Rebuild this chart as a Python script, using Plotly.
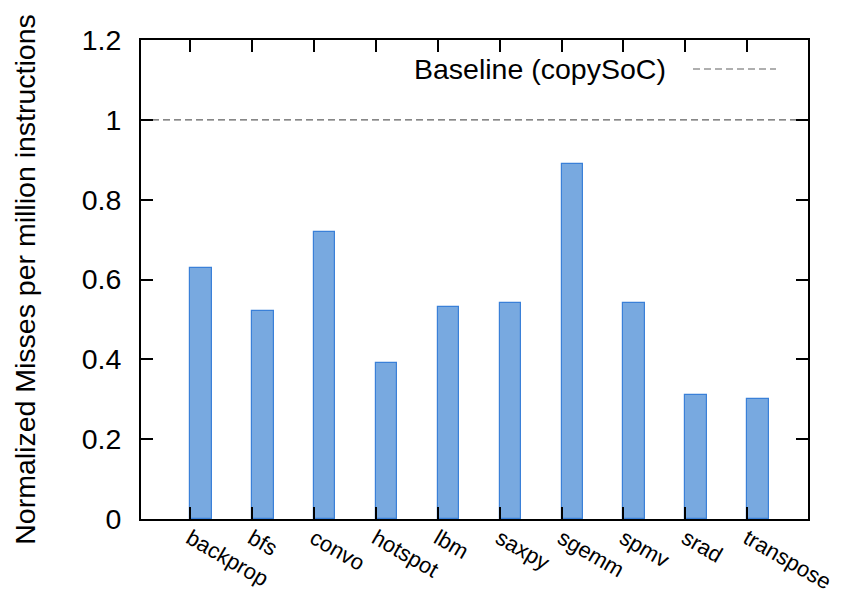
import plotly.graph_objects as go

categories = ["backprop", "bfs", "convo", "hotspot", "lbm", "saxpy", "sgemm", "spmv", "srad", "transpose"]
values = [0.63, 0.52, 0.72, 0.39, 0.53, 0.54, 0.89, 0.54, 0.31, 0.30]
baseline = 1.0
baseline_name = "Baseline (copySoC)"
y_ticks = [0, 0.2, 0.4, 0.6, 0.8, 1, 1.2]
y_tick_text = ["0", "0.2", "0.4", "0.6", "0.8", "1", "1.2"]

xpos = list(range(len(categories)))
bar_offset = 0.175
x_range = [-0.79, 9.98]

font = "Liberation Sans, Arial, Helvetica, sans-serif"
FS = 28.5
FSX = 22

# page body has an 8px default margin; target plot box in screen pixels
OFF = 8
plot_l, plot_r, plot_t, plot_b = 141, 808, 40, 519
W, H = 846, 596

fig = go.Figure()
fig.add_trace(go.Bar(
    x=[p + bar_offset for p in xpos], y=values, width=0.35,
    marker=dict(color="#78a9e0", line=dict(color="#3a80d8", width=1.2)),
    showlegend=False,
))
fig.add_trace(go.Scatter(
    x=x_range, y=[baseline, baseline], mode="lines",
    line=dict(color="#606060", width=1.2, dash="7px,4px"),
    showlegend=False, name=baseline_name,
))

def px(x):
    return (x - plot_l) / (plot_r - plot_l)
def py(y):
    return (plot_b - y) / (plot_b - plot_t)

fig.add_annotation(x=px(668), y=py(69), xref="paper", yref="paper",
                   text=baseline_name, showarrow=False, xanchor="right", yanchor="middle",
                   font=dict(family=font, size=FS, color="black"))
fig.add_shape(type="line", xref="paper", yref="paper",
              x0=px(693), x1=px(776), y0=py(69), y1=py(69),
              line=dict(color="#606060", width=1.2, dash="7px,4px"))

fig.update_layout(
    width=W, height=H,
    margin=dict(l=plot_l - OFF, r=W - (plot_r - OFF), t=plot_t - OFF, b=H - (plot_b - OFF)),
    paper_bgcolor="white", plot_bgcolor="white",
    font=dict(family=font, size=FS, color="black"),
    bargap=0,
)
fig.update_xaxes(
    range=x_range, tickmode="array", tickvals=xpos, ticktext=categories,
    tickangle=30, ticks="inside", ticklen=12, tickwidth=1.5, tickcolor="black",
    showline=True, linecolor="black", linewidth=2, mirror="allticks",
    showgrid=False, zeroline=False, tickfont=dict(size=FSX),
    automargin=False, ticklabeloverflow="allow", ticklabelstandoff=-4,
)
fig.update_yaxes(
    range=[0, 1.2], tickmode="array", tickvals=y_ticks, ticktext=y_tick_text,
    ticks="inside", ticklen=12, tickwidth=1.5, tickcolor="black",
    showline=True, linecolor="black", linewidth=2, mirror="allticks",
    showgrid=False, zeroline=False, tickfont=dict(size=FS),
    ticklabelstandoff=12, automargin=False, ticklabeloverflow="allow",
    title=dict(text="Normalized Misses per million instructions", font=dict(size=FS), standoff=38),
)

fig.write_html("out.html")
